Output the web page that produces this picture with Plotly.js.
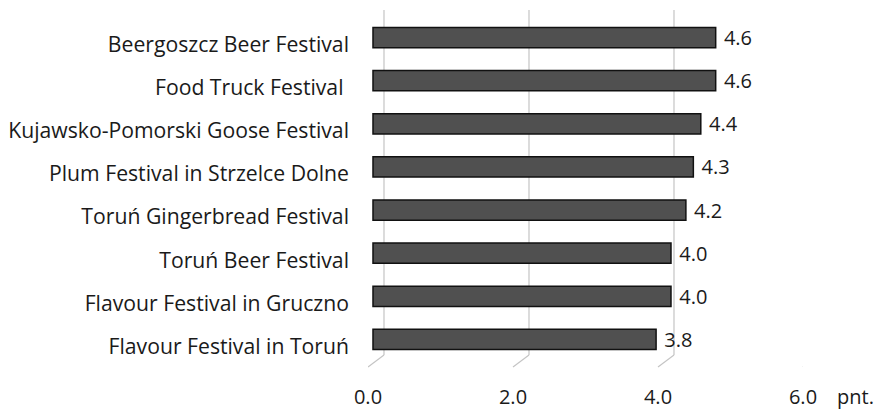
<!DOCTYPE html>
<html>
<head>
<meta charset="utf-8">
<script src="https://cdn.plot.ly/plotly-3.0.1.min.js"></script>
<style>html,body{margin:0;padding:0;background:#fff;}#chart{width:890px;height:412px;}</style>
</head>
<body>
<div id="chart"></div>
<script>
// Data (top to bottom as shown)
const festivals = [
  "Beergoszcz Beer Festival",
  "Food Truck Festival\u00a0",
  "Kujawsko-Pomorski Goose Festival",
  "Plum Festival in Strzelce Dolne",
  "Toruń Gingerbread Festival",
  "Toruń Beer Festival",
  "Flavour Festival in Gruczno",
  "Flavour Festival in Toruń"
];
const ratings = [4.6, 4.6, 4.4, 4.3, 4.2, 4.0, 4.0, 3.8];
const tickValues = [0, 2, 4, 6];
const unitLabel = "pnt.";

const FONT = "Open Sans, Liberation Sans, sans-serif";
const TXT = "#1a1a1a";

const trace = {
  type: "bar",
  orientation: "h",
  x: ratings,
  y: festivals,
  xaxis: "x2",
  yaxis: "y",
  width: 0.47,
  marker: { color: "#505050", line: { color: "#111", width: 1.5 } },
  text: ratings.map(v => "\u00a0" + v.toFixed(1)),
  textposition: "outside",
  constraintext: "none",
  cliponaxis: false,
  textfont: { family: FONT, size: 20, color: TXT },
  hoverinfo: "skip"
};

// back-plane gridlines with perspective connectors
const shapes = [];
tickValues.forEach(t => {
  const c = t === 6 ? "#a8a8a8" : "#c4c4c4";
  shapes.push({
    type: "line", xref: "x", yref: "paper",
    xsizemode: "pixel", xanchor: t, x0: 16, x1: 16,
    ysizemode: "pixel", yanchor: 0, y0: 6, y1: 351,
    line: { color: c, width: 1.2 }, layer: "below"
  });
  shapes.push({
    type: "line", xref: "x", yref: "paper",
    xsizemode: "pixel", xanchor: t, x0: 0, x1: 16,
    ysizemode: "pixel", yanchor: 0, y0: -6, y1: 6,
    line: { color: c, width: 1.2 }, layer: "below"
  });
});

const layout = {
  width: 890, height: 412,
  margin: { l: 368, r: 87, t: 16, b: 51 },
  paper_bgcolor: "#fff", plot_bgcolor: "rgba(0,0,0,0)",
  showlegend: false,
  font: { family: FONT, color: TXT },
  xaxis: {
    range: [0, 6], tickvals: tickValues, tickformat: ".1f",
    showgrid: false, zeroline: false, showline: false,
    ticks: "", ticklabelstandoff: 22,
    tickfont: { family: FONT, size: 20, color: TXT },
    fixedrange: true
  },
  xaxis2: {
    overlaying: "x", side: "bottom",
    range: [-0.067, 5.772],
    showgrid: false, zeroline: false, showline: false,
    showticklabels: false, ticks: "", fixedrange: true
  },
  yaxis: {
    type: "category", autorange: "reversed",
    showgrid: false, zeroline: false, showline: false,
    ticks: "", ticklabelstandoff: 18, ticklabelshift: -7,
    tickfont: { family: FONT, size: 21.2, color: TXT },
    fixedrange: true
  },
  shapes: shapes,
  annotations: [{
    text: unitLabel, xref: "paper", yref: "paper",
    x: 1, y: 0, xshift: 52, yshift: -35,
    showarrow: false, xanchor: "center", yanchor: "middle",
    font: { family: FONT, size: 20, color: TXT }
  }]
};

Plotly.newPlot("chart", [trace], layout, { displayModeBar: false, staticPlot: true });
</script>
</body>
</html>
